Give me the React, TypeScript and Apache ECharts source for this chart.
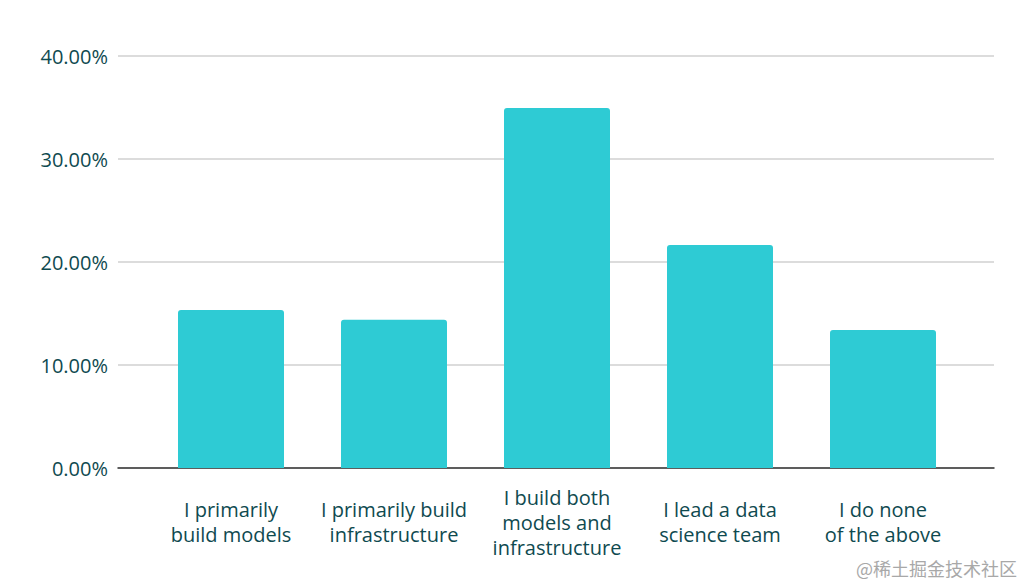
import React, { useEffect, useRef } from "react";
import * as echarts from "echarts";

const categories = [
  "I primarily\nbuild models",
  "I primarily build\ninfrastructure",
  "I build both\nmodels and\ninfrastructure",
  "I lead a data\nscience team",
  "I do none\nof the above",
];
const values = [15.35, 14.4, 34.95, 21.65, 13.4];
const yTicks = { min: 0, max: 40, interval: 10 };
const watermark = "@稀土掘金技术社区";

const textColor = "#0f4a50";
const font = "'Open Sans', 'Noto Sans', sans-serif";

export default function App() {
  const ref = useRef<HTMLDivElement>(null);
  useEffect(() => {
    if (!ref.current) return;
    const chart = echarts.init(ref.current, undefined, { renderer: "svg" });
    chart.setOption({
      animation: false,
      backgroundColor: "#ffffff",
      grid: [
        { left: 118, right: 30, top: 56, bottom: 115 },
        { left: 149.5, right: 59.5, top: 56, bottom: 115 },
      ],
      xAxis: [
        {
          gridIndex: 0,
          type: "value",
          min: 0,
          max: 1,
          axisLabel: { show: false },
          axisTick: { show: false },
          splitLine: { show: false },
          axisLine: { show: true, lineStyle: { color: "#333333", width: 1.5 } },
        },
        {
          gridIndex: 1,
          type: "category",
          data: categories,
          axisLine: { show: false },
          axisTick: { show: false },
          axisLabel: {
            interval: 0,
            color: textColor,
            fontSize: 20,
            fontFamily: font,
            lineHeight: 25,
            verticalAlign: "middle",
            margin: 54,
          },
        },
      ],
      yAxis: [
        {
          gridIndex: 0,
          type: "value",
          min: yTicks.min,
          max: yTicks.max,
          interval: yTicks.interval,
          axisLine: { show: false },
          axisTick: { show: false },
          axisLabel: {
            color: textColor,
            fontSize: 20,
            fontFamily: font,
            margin: 10,
            formatter: (v: number) => v.toFixed(2) + "%",
          },
          splitLine: { show: true, lineStyle: { color: "#d0d0d0", width: 1.5 } },
        },
        {
          gridIndex: 1,
          type: "value",
          min: yTicks.min,
          max: yTicks.max,
          interval: yTicks.interval,
          show: false,
          splitLine: { show: false },
        },
      ],
      series: [
        {
          type: "bar",
          xAxisIndex: 1,
          yAxisIndex: 1,
          data: values,
          barWidth: 106,
          itemStyle: { color: "#2ecbd4", borderRadius: [3, 3, 0, 0] },
        },
      ],
      graphic: [
        {
          type: "text",
          right: 7,
          bottom: 6,
          style: {
            text: watermark,
            fill: "#a8a8a8",
            fontSize: 18,
            fontFamily: "'Noto Sans CJK SC', sans-serif",
          },
        },
      ],
    });
    return () => chart.dispose();
  }, []);
  return (
    <div
      ref={ref}
      style={{ position: "fixed", left: 0, top: 0, width: 1024, height: 583 }}
    />
  );
}
